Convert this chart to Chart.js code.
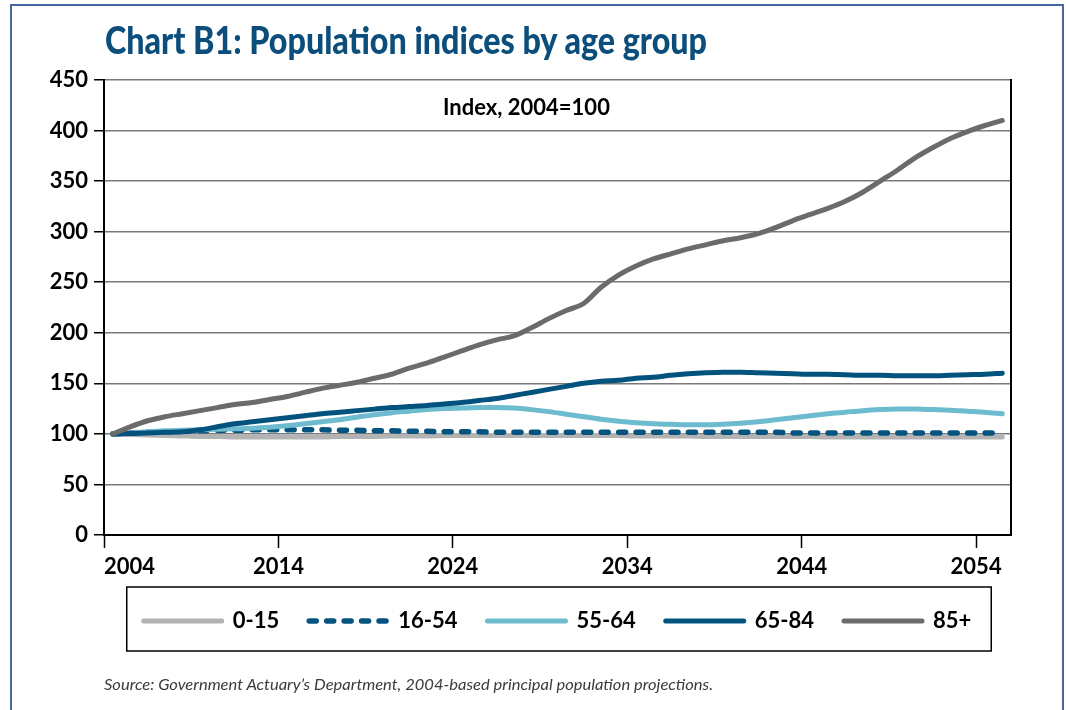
<!DOCTYPE html>
<html>
<head>
<meta charset="utf-8">
<style>
  body { margin: 0; background: #fff; }
  #wrap { position: relative; width: 1066px; height: 710px; overflow: hidden; background: #fff; }
  #frame { position: absolute; left: 10px; top: 4px; width: 1050px; height: 760px; border: 2px solid #45699c; }
  #chart { position: absolute; left: 0; top: 0; }
  .txt { position: absolute; white-space: nowrap; transform-origin: 0 0; }
  #title { left: 105px; top: 20px; font: 900 38px Lato, sans-serif; line-height: 38px; color: #0c4e7b; }
  #note { left: 443px; top: 96px; font: bold 22px Lato, sans-serif; line-height: 22px; color: #000; }
  #source { left: 104px; top: 677px; font: italic 15px Lato, sans-serif; line-height: 15px; color: #3a3a3a; }
</style>
</head>
<body>
<div id="wrap">
  <div id="frame"></div>
  <canvas id="chart" width="1066" height="710"></canvas>
  <div class="txt" id="title">Chart B1: Population indices by age group</div>
  <div class="txt" id="note">Index, 2004=100</div>
  <div class="txt" id="source">Source: Government Actuary’s Department, 2004-based principal population projections.</div>
</div>

<script src="https://cdn.jsdelivr.net/npm/chart.js"></script>
<script>
  // years on the category axis
  var years = [2004, 2005, 2006, 2007, 2008, 2009, 2010, 2011, 2012, 2013,
               2014, 2015, 2016, 2017, 2018, 2019, 2020, 2021, 2022, 2023,
               2024, 2025, 2026, 2027, 2028, 2029, 2030, 2031, 2032, 2033,
               2034, 2035, 2036, 2037, 2038, 2039, 2040, 2041, 2042, 2043,
               2044, 2045, 2046, 2047, 2048, 2049, 2050, 2051, 2052, 2053,
               2054, 2055];
  var tickYears = [2004, 2014, 2024, 2034, 2044, 2054];

  var age0to15 = [100, 99.5, 99, 98.5, 98, 97.5, 97.5, 97, 97, 97,
                  97, 97, 97, 97.5, 97.5, 97.5, 98, 98, 98, 98.5,
                  98.5, 98.5, 98.5, 98.5, 98.5, 98.5, 98.5, 98.5, 98.5, 98.5,
                  98, 98, 98, 98, 97.5, 97.5, 97.5, 97.5, 97.5, 97.5,
                  97.5, 97, 97, 97, 97, 97, 97, 97, 97, 97,
                  97, 97];
  var age16to54 = [100, 100.8, 101.5, 102, 102.5, 103, 103.5, 103.5, 104, 104,
                   104, 104, 104, 103.5, 103.5, 103, 103, 102.5, 102.5, 102,
                   102, 102, 101.5, 101.5, 101.5, 101.5, 101.5, 101.5, 101.5, 101.5,
                   101.5, 101.5, 101.5, 101.5, 101.5, 101.5, 101.5, 101.5, 101.5, 101,
                   101, 101, 101, 101, 101, 101, 101, 101, 101, 101,
                   101, 101];
  var age55to64 = [100, 101, 102, 103, 103.5, 104, 104.5, 105, 105.5, 106.5,
                   108, 110, 112, 114, 116.5, 119, 121, 122.5, 124, 125,
                   125.5, 126, 126, 125.5, 124, 122, 119.5, 117, 114.5, 112.5,
                   111, 110, 109.5, 109, 109, 109.5, 110.5, 112, 114, 116,
                   118, 120, 121.5, 123, 124, 124.5, 124.5, 124, 123.5, 122.5,
                   121.5, 120];
  var age65to84 = [100, 100.5, 101, 101.5, 102, 104, 107, 110, 112, 114,
                   116, 118, 120, 121.5, 123, 124.5, 126, 127, 128, 129.5,
                   131, 133, 135, 138, 141, 144, 147, 150, 152, 153,
                   155, 156, 158, 159.5, 160.5, 161, 161, 160.5, 160, 159.5,
                   159, 159, 158.5, 158, 158, 157.5, 157.5, 157.5, 158, 158.5,
                   159, 160];
  var age85plus = [100, 107, 113, 117, 120, 123, 126, 129, 131, 134,
                   137, 141, 145, 148, 151, 155, 159, 165, 170, 176,
                   182, 188, 193, 197, 205, 214, 222, 229, 245, 257,
                   266, 273, 278, 283, 287, 291, 294, 298, 304, 311,
                   317, 323, 330, 339, 350, 361, 373, 383, 392, 399,
                   405, 410];

  var seriesNames = ['0-15', '16-54', '55-64', '65-84', '85+'];
  var seriesValues = [age0to15, age16to54, age55to64, age65to84, age85plus];
  var seriesColors = ['#b3b3b3', '#04547f', '#6cbbce', '#02527e', '#6b6b6b'];

  function fitWidth(id, w) {
    var el = document.getElementById(id);
    var cur = el.getBoundingClientRect().width;
    el.style.transform = 'scaleX(' + (w / cur) + ')';
  }
  fitWidth('title', 602);
  fitWidth('source', 609);

  var boldFont = { family: 'Lato', weight: 'bold', size: 22 };

  var datasets = seriesNames.map(function (name, i) {
    return {
      label: name,
      data: years.map(function (yr, j) { return { x: yr, y: seriesValues[i][j] }; }),
      borderColor: seriesColors[i],
      backgroundColor: seriesColors[i],
      borderWidth: i === 1 ? 5.5 : 5,
      borderCapStyle: 'round',
      borderJoinStyle: 'round',
      borderDash: i === 1 ? [7, 10.45] : [],
      pointRadius: 0,
      cubicInterpolationMode: 'monotone',
      fill: false,
      order: seriesNames.length - i
    };
  });

  // box round the legend, like the original
  var legendFrame = {
    id: 'legendFrame',
    afterDraw: function (chart) {
      var hb = chart.legend.legendHitBoxes;
      if (!hb || !hb.length) return;
      var last = hb[hb.length - 1];
      var cy = hb[0].top + hb[0].height / 2;
      var ctx = chart.ctx;
      ctx.save();
      ctx.strokeStyle = '#000';
      ctx.lineWidth = 1.5;
      ctx.strokeRect(hb[0].left - 17, cy - 34, last.left + last.width + 20 - (hb[0].left - 17), 64);
      ctx.restore();
    }
  };

  var chart = new Chart(document.getElementById('chart').getContext('2d'), {
    type: 'line',
    data: { datasets: datasets },
    plugins: [legendFrame],
    options: {
      responsive: false,
      animation: false,
      layout: { padding: { left: 40, right: 55, top: 80, bottom: 68 } },
      plugins: {
        tooltip: { enabled: false },
        legend: {
          position: 'bottom',
          fullSize: false,
          labels: {
            usePointStyle: true,
            pointStyle: 'line',
            pointStyleWidth: 78,
            padding: 30,
            color: '#000',
            font: boldFont,
            sort: function (a, b) { return a.datasetIndex - b.datasetIndex; },
            generateLabels: function (chart) {
              var items = Chart.defaults.plugins.legend.labels.generateLabels(chart);
              items.forEach(function (it) {
                var ds = chart.data.datasets[it.datasetIndex];
                it.lineDash = ds.borderDash;
                it.lineWidth = ds.borderWidth;
                it.lineCap = 'round';
                it.strokeStyle = ds.borderColor;
              });
              return items;
            }
          }
        }
      },
      scales: {
        x: {
          type: 'linear',
          min: years[0] - 0.5,
          max: years[years.length - 1] + 0.5,
          afterBuildTicks: function (scale) {
            var t = tickYears.map(function (yr) { return { value: yr - 0.5 }; });
            t.push({ value: years[years.length - 1] + 0.5 });
            scale.ticks = t;
          },
          afterFit: function (scale) { scale.height = 45; },
          ticks: {
            align: 'inner',
            autoSkip: false,
            maxRotation: 0,
            padding: 6,
            color: '#000',
            font: boldFont,
            callback: function (v) {
              return v > years[years.length - 1] ? '' : String(v + 0.5);
            }
          },
          grid: {
            drawOnChartArea: false,
            tickLength: 13,
            tickWidth: 1.5,
            tickColor: function (c) {
              return c.tick && c.tick.value > years[years.length - 1] ? 'rgba(0,0,0,0)' : '#000';
            }
          },
          border: { color: '#000', width: 2 }
        },
        y: {
          min: 0,
          max: 450,
          afterFit: function (scale) { scale.width = 64; },
          ticks: { stepSize: 50, padding: 6, color: '#000', font: boldFont },
          grid: { color: '#7a7a7a', lineWidth: 1.5, tickLength: 10, tickColor: '#000', tickWidth: 1.5 },
          border: { color: '#000', width: 2 }
        },
        yRight: {
          position: 'right',
          min: 0,
          max: 450,
          afterFit: function (scale) { scale.width = 0; },
          ticks: { display: false },
          grid: { drawOnChartArea: false, drawTicks: false },
          border: { color: '#000', width: 2 }
        }
      }
    }
  });
</script>
</body>
</html>
